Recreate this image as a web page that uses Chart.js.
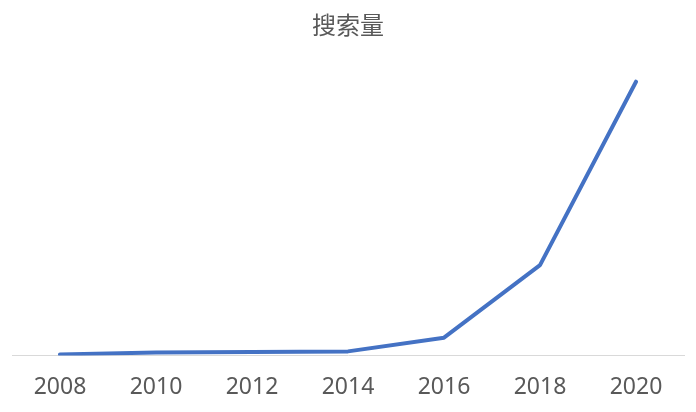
<!DOCTYPE html>
<html>
<head>
<meta charset="utf-8">
<script src="https://cdn.jsdelivr.net/npm/chart.js@4/dist/chart.umd.min.js"></script>
<style>
  html, body { margin: 0; padding: 0; background: #ffffff; }
  #wrap { width: 696px; height: 412px; }
</style>
</head>
<body>
<div id="wrap"><canvas id="chart" width="696" height="412"></canvas></div>
<script>
// Yearly search volume (relative index)
const years = ['2008', '2010', '2012', '2014', '2016', '2018', '2020'];
const searchVolume = [0.4, 1.1, 1.3, 1.5, 6.5, 33, 100];
const chartTitle = '搜索量';

const textColor = '#595959';

new Chart(document.getElementById('chart'), {
  type: 'line',
  data: {
    labels: years,
    datasets: [{
      label: chartTitle,
      data: searchVolume,
      borderColor: '#4472C4',
      borderWidth: 4,
      tension: 0,
      pointRadius: 0,
      fill: false,
      borderCapStyle: 'round',
      borderJoinStyle: 'round'
    }]
  },
  options: {
    responsive: false,
    animation: false,
    // the axis reserves tick padding on both sides of its labels; pull the bottom in a little
    layout: { padding: { left: 12, right: 12, top: 0, bottom: -7.5 } },
    plugins: {
      legend: { display: false },
      tooltip: { enabled: false },
      title: {
        display: true,
        text: chartTitle,
        color: textColor,
        font: { family: "'Noto Sans CJK SC', sans-serif", size: 24, weight: 'normal', lineHeight: 1.2 },
        padding: { top: 10, bottom: 21 }
      }
    },
    scales: {
      x: {
        offset: true,
        grid: { display: false, drawTicks: false },
        border: { display: true, color: '#d9d9d9', width: 1 },
        ticks: {
          color: textColor,
          padding: 21,
          maxRotation: 0,
          font: { family: "'Noto Sans', sans-serif", size: 23, lineHeight: '22px' }
        }
      },
      y: {
        display: false,
        min: 0,
        max: 108
      }
    }
  }
});
</script>
</body>
</html>
